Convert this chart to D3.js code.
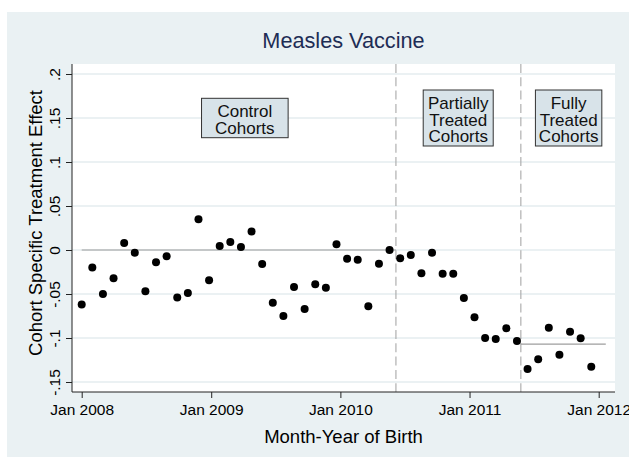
<!DOCTYPE html>
<html>
<head>
<meta charset="utf-8">
<script src="https://cdn.jsdelivr.net/npm/d3@7"></script>
<style>
  body { margin: 0; background: #fff; }
  text { font-family: "Liberation Sans", Arial, Helvetica, sans-serif; }
</style>
</head>
<body>
<script>
// data: days since Jan 1 2008 for each cohort, and estimated effect
const cohortDays = [0, 30, 60, 90, 120, 150, 180, 210, 240, 270, 300, 330,
  360, 390, 420, 450, 480, 510, 540, 570, 600, 630, 660, 690,
  720, 750, 780, 810, 840, 870, 900, 930, 960, 990, 1020, 1050,
  1080, 1110, 1140, 1170, 1200, 1230, 1260, 1290, 1320, 1350, 1380, 1410, 1440];
const effects = [-0.062, -0.020, -0.050, -0.032, 0.008, -0.003, -0.047, -0.014, -0.007, -0.054, -0.049, 0.035,
  -0.0345, 0.0045, 0.009, 0.0035, 0.021, -0.016, -0.060, -0.075, -0.042, -0.067, -0.039, -0.043,
  0.0065, -0.010, -0.011, -0.064, -0.0155, 0.000, -0.0095, -0.0057, -0.0265, -0.003, -0.027, -0.027,
  -0.0545, -0.0765, -0.100, -0.101, -0.089, -0.1034, -0.1352, -0.1242, -0.0883, -0.119, -0.0928, -0.1003, -0.1326];

const xTickDays = [0, 366, 731, 1096, 1461];
const xTickLabels = ["Jan 2008", "Jan 2009", "Jan 2010", "Jan 2011", "Jan 2012"];
const yTicks = [0.2, 0.15, 0.1, 0.05, 0, -0.05, -0.1, -0.15];
const yTickLabels = [".2", ".15", ".1", ".05", "0", "-.05", "-.1", "-.15"];

// vertical cutoffs and group mean lines
const cutoffDays = [888, 1241];
const refStart = [0, 1241];
const refEnd = [888, 1481];
const refValue = [0, -0.107];

// group labels
const groupLines = [["Control", "Cohorts"], ["Partially", "Treated", "Cohorts"], ["Fully", "Treated", "Cohorts"]];
const groupDay = [461, 1064, 1376];
const groupValue = [0.15, 0.15, 0.15];

const w = 629, h = 458;
const plot = {left: 72, right: 615, top: 64, bottom: 392};
const boxWidths = [86.6, 70, 66.4];
const font = "'Liberation Sans', Arial, Helvetica, sans-serif";

const svg = d3.select("body")
  .append("svg")
  .attr("width", w)
  .attr("height", h);

// graph region + plot region
svg.append("rect")
  .attr("x", 7).attr("y", 12)
  .attr("width", w - 7).attr("height", 445)
  .attr("fill", "#eaf1f3");
svg.append("rect")
  .attr("x", plot.left).attr("y", plot.top)
  .attr("width", plot.right - plot.left).attr("height", plot.bottom - plot.top)
  .attr("fill", "#fff");

const xScale = d3.scaleLinear()
  .domain([0, 1461])
  .range([81.7, 598.7]);
const yScale = d3.scaleLinear()
  .domain([-0.15, 0.2])
  .range([382, 74]);

// grid lines
svg.append("g")
  .selectAll("line")
  .data(yTicks)
  .enter()
  .append("line")
  .attr("x1", plot.left).attr("x2", plot.right)
  .attr("y1", d => yScale(d)).attr("y2", d => yScale(d))
  .attr("stroke", "#e4ecef")
  .attr("stroke-width", 1.3);

// dashed cutoffs
svg.append("g")
  .selectAll("line")
  .data(cutoffDays)
  .enter()
  .append("line")
  .attr("x1", d => xScale(d)).attr("x2", d => xScale(d))
  .attr("y1", plot.top).attr("y2", plot.bottom)
  .attr("stroke", "#a9a9a9")
  .attr("stroke-width", 1.1)
  .attr("stroke-dasharray", "9,4.3");

// reference lines
svg.append("g")
  .selectAll("line")
  .data(refValue)
  .enter()
  .append("line")
  .attr("x1", (d, i) => xScale(refStart[i]))
  .attr("x2", (d, i) => xScale(refEnd[i]))
  .attr("y1", d => yScale(d)).attr("y2", d => yScale(d))
  .attr("stroke", "#9e9e9e")
  .attr("stroke-width", 1.2);

// points
svg.append("g")
  .selectAll("circle")
  .data(effects)
  .enter()
  .append("circle")
  .attr("cx", (d, i) => xScale(cohortDays[i]))
  .attr("cy", d => yScale(d))
  .attr("r", 4)
  .attr("fill", "#000");

// group label boxes
const boxes = svg.append("g")
  .selectAll("g")
  .data(groupLines)
  .enter()
  .append("g")
  .attr("transform", (d, i) => "translate(" + xScale(groupDay[i]) + "," + yScale(groupValue[i]) + ")");
boxes.append("rect")
  .attr("x", (d, i) => -boxWidths[i] / 2)
  .attr("y", d => -(d.length * 16.6 + 6.2) / 2)
  .attr("width", (d, i) => boxWidths[i])
  .attr("height", d => d.length * 16.6 + 6.2)
  .attr("fill", "#d8e3e9")
  .attr("stroke", "#333")
  .attr("stroke-width", 1);
boxes.selectAll("text")
  .data(d => d.map((t, j) => ({t: t, j: j, n: d.length})))
  .enter()
  .append("text")
  .attr("text-anchor", "middle")
  .attr("y", d => -(d.n * 16.6 + 6.2) / 2 + 18.9 + d.j * 16.6)
  .style("font-size", "17px")
  .attr("fill", "#111")
  .text(d => d.t);

// axes
const yAxis = d3.axisLeft(yScale).tickValues(yTicks).tickSize(6).tickSizeOuter(0)
  .tickFormat((d, i) => yTickLabels[i]);
const xAxis = d3.axisBottom(xScale).tickValues(xTickDays).tickSize(6).tickSizeOuter(0)
  .tickFormat((d, i) => xTickLabels[i]);

const gy = svg.append("g")
  .attr("id", "y-axis")
  .attr("transform", "translate(" + plot.left + ",0)")
  .call(yAxis);
gy.select(".domain").remove();
gy.selectAll("text")
  .attr("x", 0).attr("y", -12).attr("dy", null)
  .attr("transform", "rotate(-90)")
  .attr("text-anchor", "middle")
  .style("font-family", font)
  .style("font-size", "15.5px")
  .attr("fill", "#000");

const gx = svg.append("g")
  .attr("id", "x-axis")
  .attr("transform", "translate(0," + plot.bottom + ")")
  .call(xAxis);
gx.select(".domain").remove();
gx.selectAll("text")
  .attr("y", 22.5).attr("dy", null)
  .style("font-family", font)
  .style("font-size", "15.5px")
  .attr("fill", "#000");
svg.selectAll(".tick line").attr("stroke", "#222");

svg.append("line")
  .attr("x1", plot.left).attr("x2", plot.left)
  .attr("y1", plot.top).attr("y2", plot.bottom)
  .attr("stroke", "#222");
svg.append("line")
  .attr("x1", plot.left).attr("x2", plot.right)
  .attr("y1", plot.bottom).attr("y2", plot.bottom)
  .attr("stroke", "#222");

// titles
svg.append("text")
  .attr("x", (plot.left + plot.right) / 2)
  .attr("y", 47.5)
  .attr("text-anchor", "middle")
  .style("font-size", "21.7px")
  .attr("fill", "#1e2d55")
  .text("Measles Vaccine");

svg.append("text")
  .attr("x", (plot.left + plot.right) / 2)
  .attr("y", 443.3)
  .attr("text-anchor", "middle")
  .style("font-size", "18.5px")
  .attr("fill", "#000")
  .text("Month-Year of Birth");

svg.append("text")
  .attr("transform", "translate(41.5,223) rotate(-90)")
  .attr("text-anchor", "middle")
  .style("font-size", "18.5px")
  .attr("fill", "#000")
  .text("Cohort Specific Treatment Effect");
</script>
</body>
</html>
